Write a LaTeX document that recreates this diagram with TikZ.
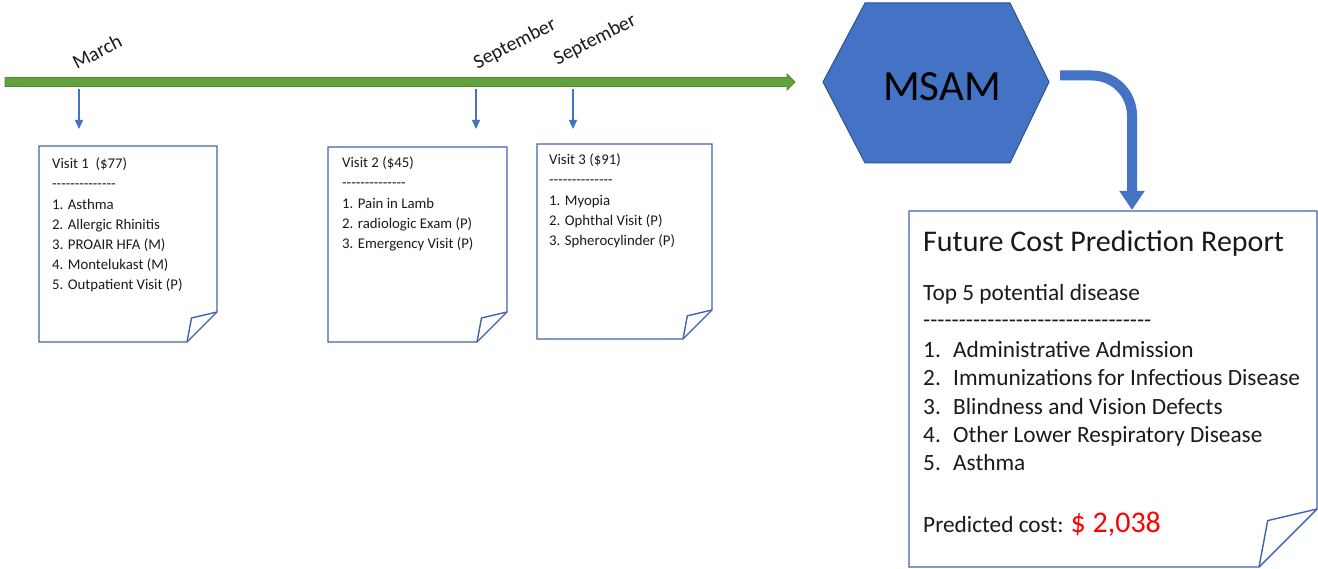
\documentclass[tikz,border=0pt]{standalone}
\usepackage{fontspec}
\setmainfont{Carlito}
\usetikzlibrary{arrows.meta}

\definecolor{timeline}{HTML}{62A23E}
\definecolor{timelineedge}{HTML}{4E8A30}
\definecolor{officeblue}{HTML}{4472C4}
\definecolor{officeedge}{HTML}{2F528F}
\definecolor{noteedge}{HTML}{3F62AE}
\definecolor{ink}{HTML}{1A1A1A}

% a row of plain hyphens (kerns keep them from joining into dashes)
\newcommand\hyphenrule[1]{\foreach\k in {1,...,#1}{-\kern0pt}}

% sheet with a folded lower right corner: left, top, right, bottom, fold size
\newcommand\foldnote[5]{%
  \draw[notebox] (#1,#2) -- (#3,#2) -- (#3,#4-#5) -- (#3-#5,#4) -- (#1,#4) -- cycle;
  \draw[notebox] (#3,#4-#5) -- (#3-0.85*#5,#4-0.8*#5) -- (#3-#5,#4);
}

% multi-line blocks are placed by the baseline of their last line
\tikzset{
  notebox/.style={draw=noteedge, line width=1.4pt, line join=miter},
  notetext/.style={anchor=base west, align=left, text=ink, inner sep=0pt,
    font=\fontsize{14.8}{20.2}\selectfont},
  monthlabel/.style={rotate=27, text=ink, inner sep=0pt,
    font=\fontsize{20}{24}\selectfont},
  visitarrow/.style={draw=officeblue, line width=1.2pt,
    -{Triangle[length=9pt,width=8pt]}},
  reporttext/.style={anchor=base west, text=ink, inner sep=0pt,
    font=\fontsize{23.3}{28.3}\selectfont},
}

\begin{document}
\begin{tikzpicture}[x=1pt, y=-1pt]
\useasboundingbox (0,0) rectangle (1318,569);

% timeline
\filldraw[fill=timeline, draw=timelineedge, line width=0.8pt, line join=miter]
  (5,77.5) -- (787,77.5) -- (787,74) -- (795,82) -- (787,90) -- (787,86.5) -- (5,86.5) -- cycle;

% month labels
\node[monthlabel] (m1) at (97,52) {March};
\node[monthlabel] (m2) at (515,44) {September};
\node[monthlabel] (m3) at (595,40) {September};

% visit markers
\coordinate (t1) at (79,89);   \coordinate (v1) at (79,129);
\coordinate (t2) at (476,89);  \coordinate (v2) at (476,129);
\coordinate (t3) at (573,89);  \coordinate (v3) at (573,129);
\draw[visitarrow] (t1) -- (v1);
\draw[visitarrow] (t2) -- (v2);
\draw[visitarrow] (t3) -- (v3);

% visit sheets
\foldnote{39}{146}{217}{342}{30}
\foldnote{328}{147}{507}{342}{30}
\foldnote{537}{144}{712}{339}{29}

\node[notetext] (visit1) at (52,290) {Visit 1\ \ (\$77)\\ \hyphenrule{14}\\ 1. Asthma\\ 2. Allergic Rhinitis\\
  3. PROAIR HFA (M)\\ 4. Montelukast (M)\\ 5. Outpatient Visit (P)};
\node[notetext] (visit2) at (342,248.6) {Visit 2 (\$45)\\ \hyphenrule{14}\\ 1. Pain in Lamb\\
  2. radiologic Exam (P)\\ 3. Emergency Visit (P)};
\node[notetext] (visit3) at (549,245.6) {Visit 3 (\$91)\\ \hyphenrule{14}\\ 1. Myopia\\
  2. Ophthal Visit (P)\\ 3. Spherocylinder (P)};

% model
\filldraw[fill=officeblue, draw=officeedge, line width=1pt, line join=miter]
  (823,82) -- (865,3) -- (1010,3) -- (1049,82) -- (1010,163) -- (865,163) -- cycle;
\node[text=black, inner sep=0pt, font=\fontsize{43}{50}\selectfont] (msam) at (942,87) {MSAM};

% report sheet
\foldnote{909}{211}{1317}{567}{58}
\coordinate (bendstart) at (1060,75.5);
\coordinate (reporttop) at (1132,210);
\draw[officeblue, line width=10pt, rounded corners=40pt,
  -{Triangle[length=19pt,width=24pt]}] (bendstart) -| (reporttop);

\node[reporttext, font=\fontsize{30}{36}\selectfont] (title) at (923,251.5) {Future Cost Prediction Report};
\node[reporttext] (sub) at (923,300.5) {Top 5 potential disease};
\node[reporttext] (rule) at (923,328) {\hyphenrule{32}};
\node[reporttext, align=left] (list) at (923,470.7) {%
  \makebox[30pt][l]{1.}Administrative Admission\\
  \makebox[30pt][l]{2.}Immunizations for Infectious Disease\\
  \makebox[30pt][l]{3.}Blindness and Vision Defects\\
  \makebox[30pt][l]{4.}Other Lower Respiratory Disease\\
  \makebox[30pt][l]{5.}Asthma};
\node[reporttext] (cost) at (923,532.5)
  {Predicted cost: {\fontsize{30}{36}\selectfont\color{red}\$ 2,038}};
\end{tikzpicture}
\end{document}
